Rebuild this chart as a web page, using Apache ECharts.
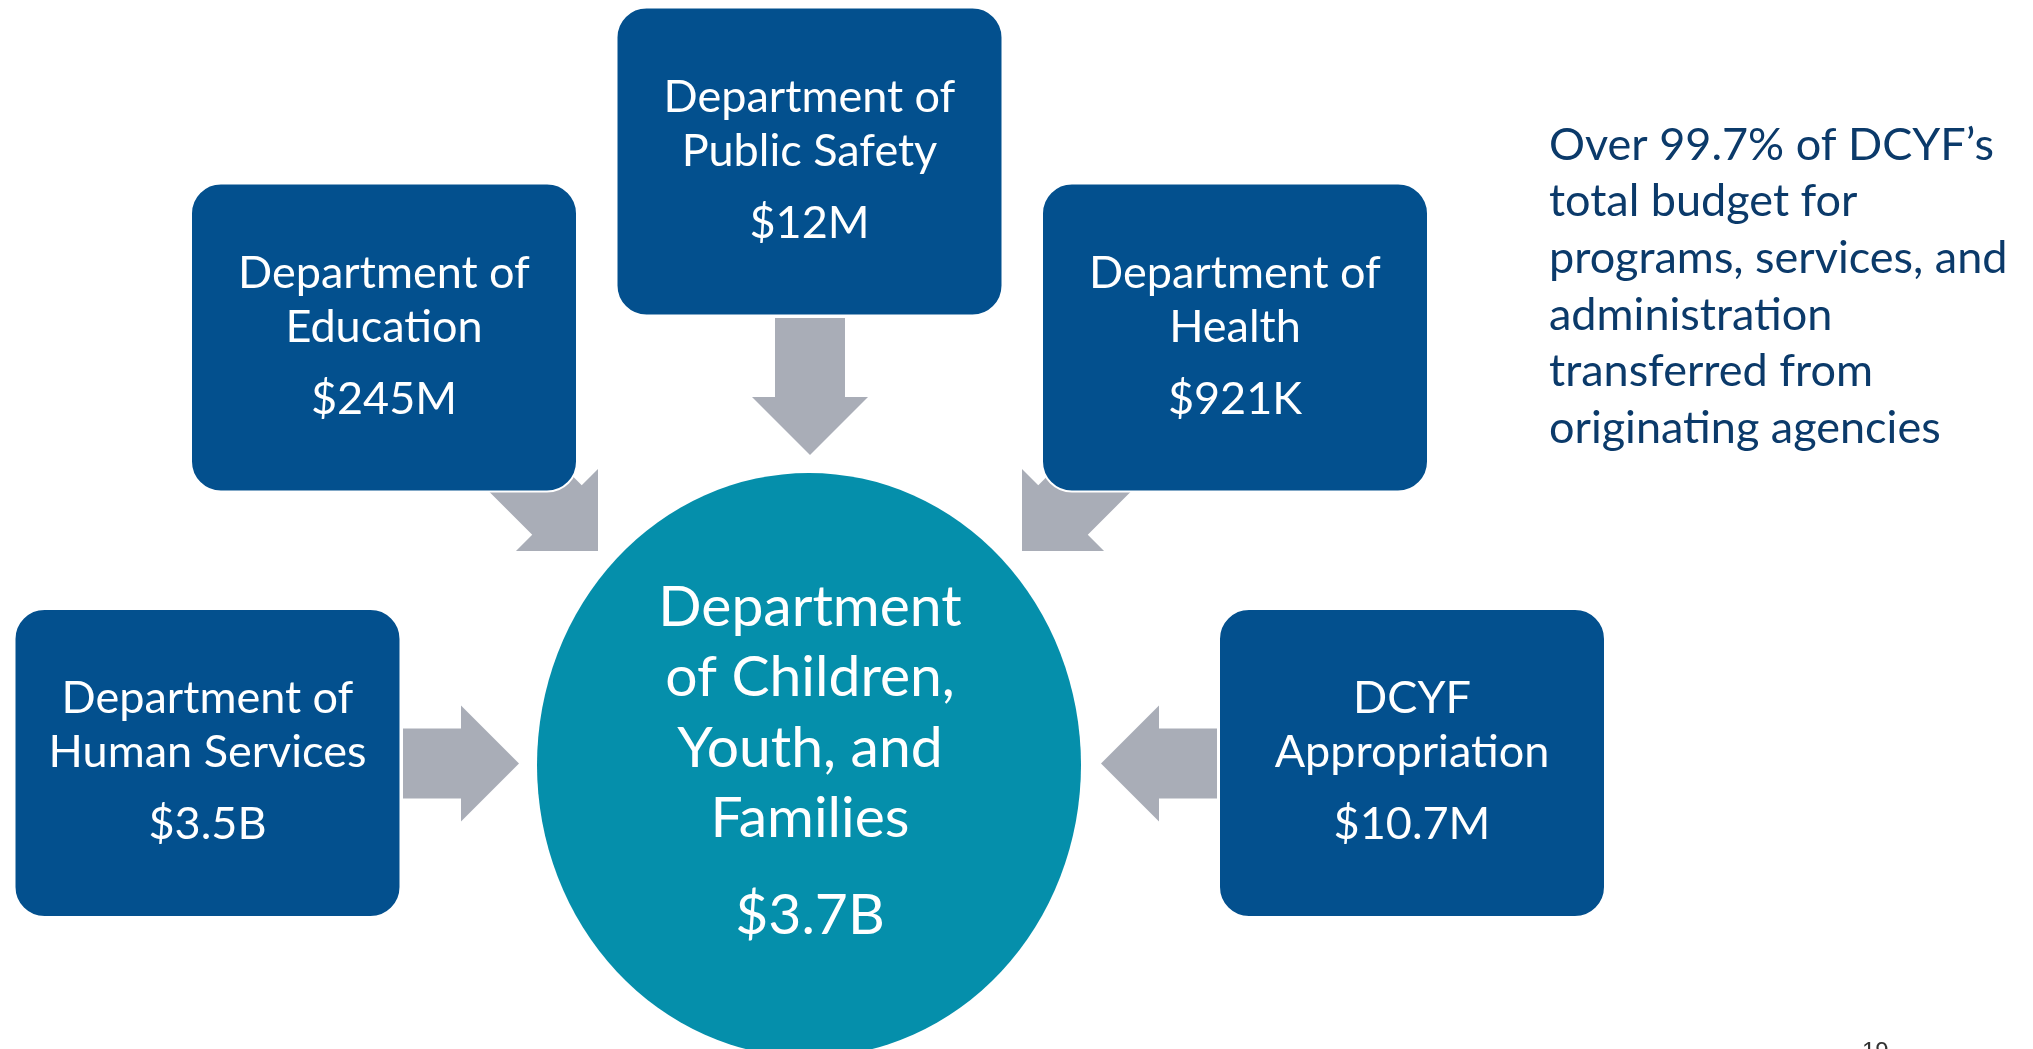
<!DOCTYPE html>
<html>
<head>
<meta charset="utf-8">
<script src="https://cdn.jsdelivr.net/npm/echarts@6/dist/echarts.min.js"></script>
<style>
  html, body { margin: 0; padding: 0; background: #fff; }
  #chart { width: 2033px; height: 1049px; }
</style>
</head>
<body>
<div id="chart"></div>
<script>
// source departments feeding DCYF
let sourceTitles = [
  ['Department of', 'Human Services'],
  ['Department of', 'Education'],
  ['Department of', 'Public Safety'],
  ['Department of', 'Health'],
  ['DCYF', 'Appropriation']
];
let sourceAmounts = ['$3.5B', '$245M', '$12M', '$921K', '$10.7M'];

let targetTitle = ['Department', 'of Children,', 'Youth, and', 'Families'];
let targetAmount = '$3.7B';

let noteLines = [
  'Over 99.7% of DCYF\u2019s',
  'total budget for',
  'programs, services, and',
  'administration',
  'transferred from',
  'originating agencies'
];
let pageNumber = '19';

// layout (page units, 1 unit = 1px)
let boxCenters = [[207.5, 763], [384, 337.5], [809.5, 161.5], [1235, 337.5], [1412, 763]];
let boxW = 386, boxH = 308, boxR = 30;
let arrowTips = [[519, 763.5], [598, 551], [810, 455], [1022, 551], [1101, 763.5]];
let arrowDirs = [[1, 0], [1, 1], [0, 1], [-1, 1], [-1, 0]];
let arrowLens = [116, 140, 137, 140, 116];
let hub = { cx: 809, cy: 765, rx: 272, ry: 292 };

const BOX_COLOR = '#03508e';
const HUB_COLOR = '#058fab';
const ARROW_COLOR = '#a9adb7';
const NOTE_COLOR = '#0b3a6a';
const FONT = 'Lato, "Noto Sans", sans-serif';

let chart = echarts.init(document.getElementById('chart'), null, { renderer: 'canvas' });

function arrowPoints(api, i) {
  let t = arrowTips[i], d = arrowDirs[i];
  let n = Math.sqrt(d[0] * d[0] + d[1] * d[1]);
  let dx = d[0] / n, dy = d[1] / n;
  let px = -dy, py = dx;
  let w = 35, h = 58, hl = 58, L = arrowLens[i];
  let bx = t[0] - hl * dx, by = t[1] - hl * dy;
  let sx = t[0] - L * dx, sy = t[1] - L * dy;
  let pts = [
    [sx + w * px, sy + w * py],
    [bx + w * px, by + w * py],
    [bx + h * px, by + h * py],
    [t[0], t[1]],
    [bx - h * px, by - h * py],
    [bx - w * px, by - w * py],
    [sx - w * px, sy - w * py]
  ];
  return pts.map(p => api.coord(p));
}

function textEl(api, x, y, str, size, color, align) {
  let c = api.coord([x, y]);
  return {
    type: 'text',
    x: c[0],
    y: c[1],
    style: {
      text: str,
      fill: color,
      font: size + 'px ' + FONT,
      align: align || 'center',
      verticalAlign: 'middle'
    }
  };
}

let option = {
  animation: false,
  backgroundColor: '#ffffff',
  grid: { left: 0, right: 0, top: 0, bottom: 0 },
  xAxis: { type: 'value', min: 0, max: 2033, show: false },
  yAxis: { type: 'value', min: 0, max: 1049, inverse: true, show: false },
  series: [
    {
      // block arrows
      type: 'custom',
      clip: false,
      z: 1,
      data: sourceAmounts.map((a, i) => [i]),
      renderItem: function(params, api) {
        return {
          type: 'polygon',
          shape: { points: arrowPoints(api, params.dataIndex) },
          style: { fill: ARROW_COLOR }
        };
      }
    },
    {
      // hub ellipse
      type: 'custom',
      clip: false,
      z: 2,
      data: [[0]],
      renderItem: function(params, api) {
        let c = api.coord([hub.cx, hub.cy]);
        let children = [{
          type: 'circle',
          x: c[0],
          y: c[1],
          scaleY: hub.ry / hub.rx,
          shape: { cx: 0, cy: 0, r: hub.rx },
          style: { fill: HUB_COLOR }
        }];
        let offs = [-157.5, -87.5, -16.5, 53.5];
        for (let k = 0; k < targetTitle.length; k++) {
          children.push(textEl(api, hub.cx + 1, hub.cy + offs[k], targetTitle[k], 57, '#ffffff'));
        }
        children.push(textEl(api, hub.cx + 1, hub.cy + 150.5, targetAmount, 57, '#ffffff'));
        return { type: 'group', children: children };
      }
    },
    {
      // source boxes
      type: 'custom',
      clip: false,
      z: 3,
      data: sourceAmounts.map((a, i) => [i]),
      renderItem: function(params, api) {
        let i = params.dataIndex;
        let ctr = boxCenters[i];
        let tl = api.coord([ctr[0] - boxW / 2, ctr[1] - boxH / 2]);
        let sz = api.size([boxW, boxH]);
        return {
          type: 'group',
          children: [
            {
              type: 'rect',
              shape: { x: tl[0], y: tl[1], width: sz[0], height: sz[1], r: boxR },
              style: { fill: BOX_COLOR, stroke: '#ffffff', lineWidth: 2 }
            },
            textEl(api, ctr[0], ctr[1] - 64.5, sourceTitles[i][0], 45, '#ffffff'),
            textEl(api, ctr[0], ctr[1] - 10.5, sourceTitles[i][1], 45, '#ffffff'),
            textEl(api, ctr[0], ctr[1] + 61.5, sourceAmounts[i], 45, '#ffffff')
          ]
        };
      }
    },
    {
      // note text and page number
      type: 'custom',
      clip: false,
      z: 4,
      data: [[0]],
      renderItem: function(params, api) {
        let children = noteLines.map((s, k) =>
          textEl(api, 1549, 145 + k * 56.67, s, 45, NOTE_COLOR, 'left'));
        let p = api.coord([1862, 1052]);
        children.push({
          type: 'text',
          x: p[0],
          y: p[1],
          style: {
            text: pageNumber,
            fill: '#333333',
            font: '24px "Liberation Sans", Arial, sans-serif',
            align: 'left',
            verticalAlign: 'middle'
          }
        });
        return { type: 'group', children: children };
      }
    }
  ]
};

chart.setOption(option);
</script>
</body>
</html>
